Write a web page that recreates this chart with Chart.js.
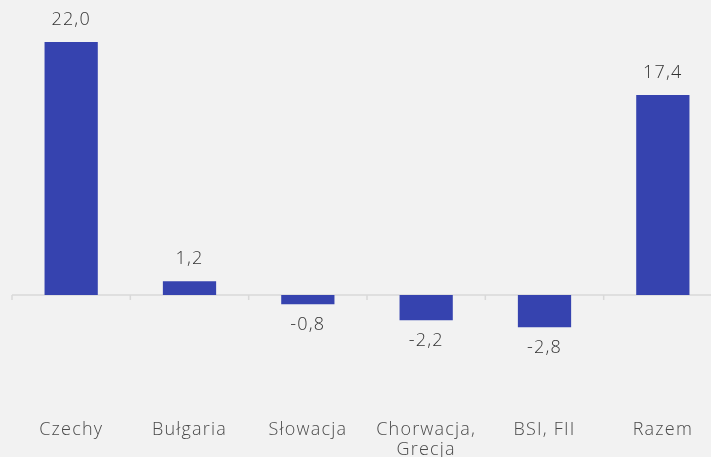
<!DOCTYPE html>
<html><head><meta charset="utf-8">
<script src="https://cdn.jsdelivr.net/npm/chart.js@4"></script>
<style>
html,body{margin:0;padding:0;background:#f2f2f2;overflow:hidden;width:711px;height:457px}
#wrap{position:absolute;left:0;top:0;width:722px;height:457px}
</style></head>
<body><div id="wrap"><canvas id="c"></canvas></div>
<script>
const categories = ["Czechy", "Bułgaria", "Słowacja", ["Chorwacja,", "Grecja"], "BSI, FII", "Razem"];
const values = [22.0, 1.2, -0.8, -2.2, -2.8, 17.4];
const yMin = -10, yMax = 25;

const FONT = "'Open Sans', sans-serif";
const fmt = v => v.toFixed(1).replace('.', ',');

const spacing = {
  id: 'spacing',
  beforeInit(chart) { chart.ctx.letterSpacing = '1.2px'; },
  beforeLayout(chart) { chart.ctx.letterSpacing = '1.2px'; },
  beforeDraw(chart) { chart.ctx.letterSpacing = '1.2px'; }
};

const zeroLine = {
  id: 'zeroLine',
  beforeDatasetsDraw(chart) {
    const {ctx, scales: {x, y}, chartArea} = chart;
    const y0 = y.getPixelForValue(0);
    const step = x.getPixelForValue(1) - x.getPixelForValue(0);
    ctx.save();
    ctx.strokeStyle = '#d9d9d9';
    ctx.lineWidth = 1.5;
    ctx.beginPath();
    ctx.moveTo(chartArea.left, y0);
    ctx.lineTo(chartArea.right, y0);
    for (let i = 0; i < categories.length; i++) {
      const xb = x.getPixelForValue(i) - step / 2;
      ctx.moveTo(xb, y0);
      ctx.lineTo(xb, y0 + 5);
    }
    ctx.stroke();
    ctx.restore();
  }
};

const valueLabels = {
  id: 'valueLabels',
  afterDatasetsDraw(chart) {
    const {ctx} = chart;
    const meta = chart.getDatasetMeta(0);
    ctx.save();
    ctx.letterSpacing = '1.2px';
    ctx.fillStyle = '#333333';
    ctx.font = '300 18px ' + FONT;
    ctx.textAlign = 'center';
    ctx.textBaseline = 'middle';
    meta.data.forEach((bar, i) => {
      const v = values[i];
      const yy = v >= 0 ? bar.y - 22 : bar.y + 21;
      ctx.fillText(fmt(v), bar.x, yy);
    });
    ctx.restore();
  }
};

new Chart(document.getElementById('c'), {
  type: 'bar',
  data: {
    labels: categories,
    datasets: [{
      data: values,
      backgroundColor: '#3643af',
      borderWidth: 0,
      barPercentage: 0.45,
      categoryPercentage: 1.0
    }]
  },
  options: {
    responsive: true,
    maintainAspectRatio: false,
    animation: false,
    layout: {padding: {left: 12, right: 0, top: 7.5, bottom: 0}},
    plugins: {legend: {display: false}, tooltip: {enabled: false}},
    scales: {
      x: {
        grid: {display: false},
        border: {display: false},
        afterFit(scale) { scale.height = 47; },
        ticks: {color: '#4a4a4a', font: {family: FONT, size: 18, weight: '300', lineHeight: 1.12}, padding: 2, maxRotation: 0, autoSkip: false}
      },
      y: {
        display: false,
        min: yMin, max: yMax
      }
    }
  },
  plugins: [spacing, zeroLine, valueLabels]
});
</script></body></html>
